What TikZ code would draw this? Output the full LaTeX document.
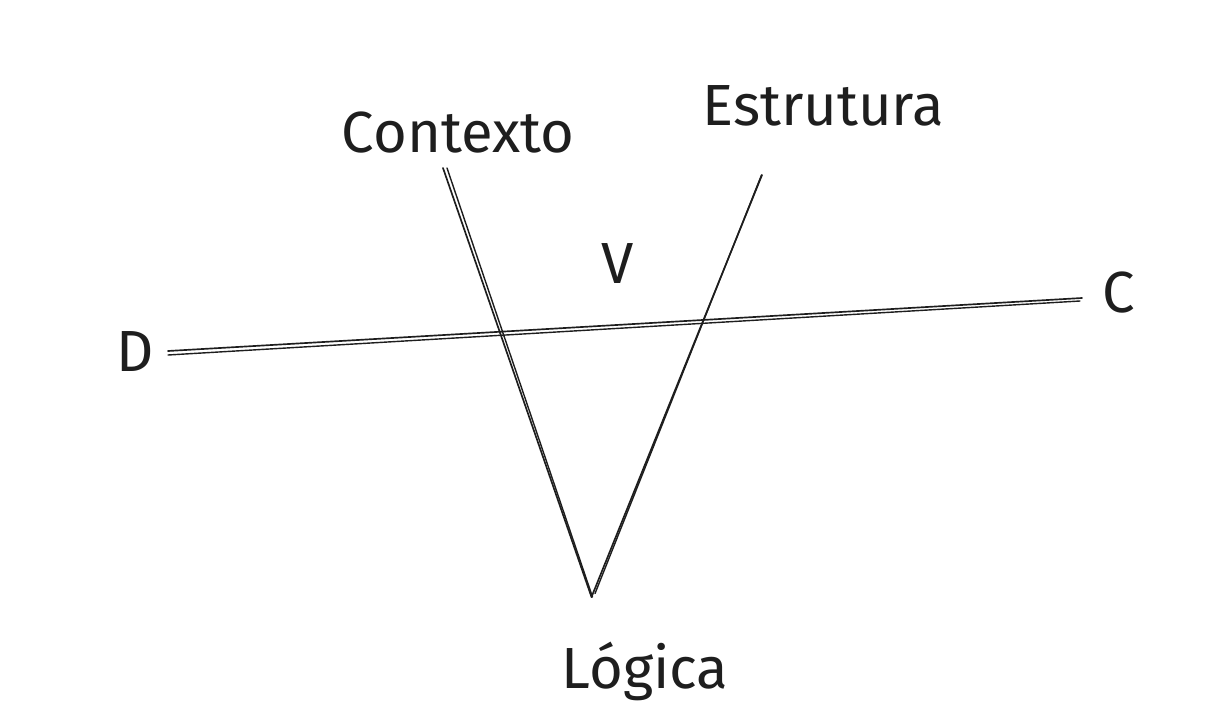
\documentclass[tikz,border=0pt]{standalone}
\usepackage{fontspec}
\setmainfont{Fira Sans}
\usepackage{xcolor}
\usepackage{tikz}
\usetikzlibrary{positioning}

\definecolor{ink}{HTML}{1E1E1E}

\begin{document}
\begin{tikzpicture}[
    label/.style={text=ink, font=\fontsize{33}{40}\selectfont, anchor=base, inner sep=0pt},
    stroke/.style={draw=ink, line width=0.95pt, line cap=round},
    shifted/.style={stroke, line width=0.8pt}
]
\useasboundingbox (0,0) rectangle (24.4,14.42);

% ends of the three lines
\coordinate (ctxTop) at (8.86,11.06);
\coordinate (estTop) at (15.24,10.92);
\coordinate (vBot)   at (11.83,2.48);
\coordinate (dEnd)   at (3.36,7.40);
\coordinate (cEnd)   at (21.64,8.46);

% labels
\node[label] (ctx) at (9.16,11.38)  {Contexto};
\node[label] (est) at (16.46,11.92) {Estrutura};
\node[label] (v)   at (12.36,8.76)  {V};
\node[label] (d)   at (2.70,7.00)   {D};
\node[label] (c)   at (22.38,8.18)  {C};
\node[label] (log) at (12.90,0.66)  {Lógica};

% sketchy double strokes
\draw[stroke]  (ctxTop) -- (vBot);
\draw[shifted] ([xshift=0.08cm]ctxTop) -- ([xshift=0.02cm]vBot);
\draw[stroke]  (estTop) -- (vBot);
\draw[shifted] ([xshift=-0.01cm]estTop) -- ([xshift=0.07cm,yshift=0.07cm]vBot);
\draw[stroke]  (dEnd) -- (cEnd);
\draw[shifted] ([yshift=-0.08cm]dEnd) -- ([yshift=-0.06cm,xshift=-0.04cm]cEnd);
\end{tikzpicture}
\end{document}
